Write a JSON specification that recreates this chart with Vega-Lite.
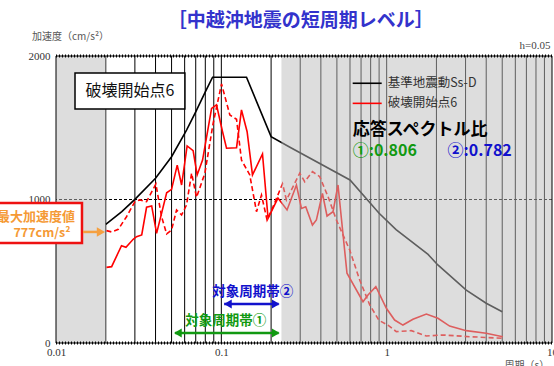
{
  "$schema": "https://vega.github.io/schema/vega-lite/v6.json",
  "width": 496,
  "height": 287,
  "autosize": {"type": "none"},
  "padding": {"left": 56, "top": 56, "right": 2, "bottom": 23},
  "background": "white",
  "config": {"view": {"stroke": null}, "font": "Noto Sans CJK JP", "text": {"font": "Noto Sans CJK JP"}},
  "data": {"values": [{}]},
  "datasets": {
    "grid": [{"period":0.02},{"period":0.03},{"period":0.04},{"period":0.05},{"period":0.06},{"period":0.07},{"period":0.08},{"period":0.09},{"period":0.1},{"period":0.2},{"period":0.3},{"period":0.4},{"period":0.5},{"period":0.6},{"period":0.7},{"period":0.8},{"period":0.9},{"period":1},{"period":2},{"period":3},{"period":4},{"period":5},{"period":6},{"period":7},{"period":8},{"period":9}],
    "shade": [{"from":0.01,"to":0.02},{"from":0.231,"to":10}],
    "ss": [{"period":0.02,"accel":827},{"period":0.025,"accel":915},{"period":0.03,"accel":1001},{"period":0.04,"accel":1148},{"period":0.05,"accel":1298},{"period":0.0616,"accel":1484},{"period":0.07,"accel":1610},{"period":0.08,"accel":1750},{"period":0.0885,"accel":1852},{"period":0.142,"accel":1852},{"period":0.2,"accel":1438},{"period":0.26,"accel":1364},{"period":0.6,"accel":1136},{"period":0.9,"accel":904},{"period":1.14,"accel":790},{"period":1.78,"accel":617},{"period":2.04,"accel":544},{"period":3.03,"accel":369},{"period":4.0,"accel":277},{"period":5.0,"accel":218}],
    "red": [{"period":0.0202,"accel":527},{"period":0.0217,"accel":532},{"period":0.0249,"accel":678},{"period":0.0265,"accel":667},{"period":0.0293,"accel":723},{"period":0.0307,"accel":741},{"period":0.033,"accel":753},{"period":0.0353,"accel":946},{"period":0.0379,"accel":955},{"period":0.0406,"accel":764},{"period":0.0467,"accel":1047},{"period":0.05,"accel":1071},{"period":0.0541,"accel":1240},{"period":0.0575,"accel":1101},{"period":0.0621,"accel":1373},{"period":0.0675,"accel":1340},{"period":0.0714,"accel":1171},{"period":0.077,"accel":1275},{"period":0.0873,"accel":1635},{"period":0.0935,"accel":1659},{"period":0.1017,"accel":1472},{"period":0.1075,"accel":1357},{"period":0.1236,"accel":1361},{"period":0.1324,"accel":1624},{"period":0.1432,"accel":1472},{"period":0.1543,"accel":1171},{"period":0.1774,"accel":1317},{"period":0.1917,"accel":869},{"period":0.22,"accel":1010},{"period":0.2497,"accel":927},{"period":0.2846,"accel":1101},{"period":0.3052,"accel":938},{"period":0.324,"accel":950},{"period":0.3557,"accel":822},{"period":0.3758,"accel":857},{"period":0.4088,"accel":1043},{"period":0.4358,"accel":885},{"period":0.4737,"accel":915},{"period":0.5077,"accel":1101},{"period":0.5754,"accel":486},{"period":0.7193,"accel":288},{"period":0.771,"accel":334},{"period":0.86,"accel":392},{"period":0.9957,"accel":242},{"period":1.117,"accel":160},{"period":1.254,"accel":125},{"period":1.442,"accel":165},{"period":1.738,"accel":202},{"period":2.042,"accel":172},{"period":2.403,"accel":118},{"period":3.03,"accel":86},{"period":4.0,"accel":68},{"period":5.04,"accel":44}],
    "redDash": [{"period":0.0202,"accel":783},{"period":0.0217,"accel":774},{"period":0.0238,"accel":792},{"period":0.0267,"accel":880},{"period":0.03,"accel":985},{"period":0.0322,"accel":997},{"period":0.0353,"accel":985},{"period":0.0402,"accel":1108},{"period":0.0435,"accel":880},{"period":0.0467,"accel":760},{"period":0.05,"accel":787},{"period":0.0536,"accel":927},{"period":0.0575,"accel":892},{"period":0.0616,"accel":962},{"period":0.0661,"accel":1183},{"period":0.0708,"accel":1015},{"period":0.0795,"accel":1183},{"period":0.0892,"accel":1531},{"period":0.1003,"accel":1805},{"period":0.1126,"accel":1589},{"period":0.1236,"accel":1559},{"period":0.1324,"accel":1275},{"period":0.1486,"accel":1171},{"period":0.1632,"accel":915},{"period":0.1749,"accel":1031},{"period":0.1891,"accel":857},{"period":0.2056,"accel":950},{"period":0.2344,"accel":1110},{"period":0.2476,"accel":997},{"period":0.298,"accel":1183},{"period":0.3195,"accel":1124},{"period":0.3557,"accel":1194},{"period":0.3937,"accel":1159},{"period":0.4419,"accel":1020},{"period":0.4966,"accel":857},{"period":0.5976,"accel":648},{"period":0.687,"accel":439},{"period":0.79,"accel":265},{"period":0.9,"accel":157},{"period":1.018,"accel":125},{"period":1.144,"accel":79},{"period":1.41,"accel":86},{"period":1.738,"accel":49},{"period":2.188,"accel":56},{"period":3.173,"accel":44},{"period":5.04,"accel":33}]
  },
  "layer": [
    {
      "data": {"name": "grid"},
      "mark": {"type": "rule", "color": "#000000", "strokeWidth": 1},
      "encoding": {
        "x": {"field": "period", "type": "quantitative", "scale": {"type": "log", "domain": [0.01, 10]},
              "axis": {"values": [0.01, 0.1, 1, 10], "format": "~g", "title": null, "grid": false, "ticks": false, "domain": false, "labelFont": "Liberation Serif", "labelFontSize": 11, "labelColor": "#333333", "labelPadding": 3, "labelFlush": false, "labelOverlap": false}}
      }
    },
    {
      "mark": {"type": "rule", "color": "#000000", "strokeWidth": 1, "strokeDash": [3, 2]},
      "encoding": {
        "y": {"datum": 1000, "type": "quantitative", "scale": {"domain": [0, 2000]},
              "axis": {"values": [0, 1000, 2000], "format": "d", "title": null, "grid": false, "ticks": false, "domain": false, "labelFont": "Liberation Serif", "labelFontSize": 11, "labelColor": "#333333", "labelPadding": 6}}
      }
    },
    {
      "data": {"name": "ss"},
      "mark": {"type": "line", "color": "#000000", "strokeWidth": 1.6},
      "encoding": {"x": {"field": "period", "type": "quantitative"}, "y": {"field": "accel", "type": "quantitative"}}
    },
    {
      "data": {"name": "red"},
      "mark": {"type": "line", "color": "#ff0000", "strokeWidth": 1.6},
      "encoding": {"x": {"field": "period", "type": "quantitative"}, "y": {"field": "accel", "type": "quantitative"}}
    },
    {
      "data": {"name": "redDash"},
      "mark": {"type": "line", "color": "#ff0000", "strokeWidth": 1.6, "strokeDash": [5, 3]},
      "encoding": {"x": {"field": "period", "type": "quantitative"}, "y": {"field": "accel", "type": "quantitative"}}
    },
    {
      "data": {"name": "shade"},
      "mark": {"type": "rect", "color": "#bbbbbb", "opacity": 0.5},
      "encoding": {"x": {"field": "from", "type": "quantitative"}, "x2": {"field": "to"}}
    },
    {"mark": {"type": "rule", "color": "#000000", "strokeWidth": 1}, "encoding": {"y": {"datum": 0}}},
    {"mark": {"type": "rule", "color": "#000000", "strokeWidth": 1}, "encoding": {"y": {"datum": 2000}}},
    {"mark": {"type": "rule", "color": "#000000", "strokeWidth": 3, "strokeDash": [1, 2]}, "encoding": {"y": {"datum": 0}}},
    {"mark": {"type": "rule", "color": "#000000", "strokeWidth": 3, "strokeDash": [1, 2]}, "encoding": {"y": {"datum": 2000}}},
    {"mark": {"type": "rule", "color": "#000000", "strokeWidth": 1}, "encoding": {"x": {"datum": 0.01}}},
    {"mark": {"type": "rule", "color": "#000000", "strokeWidth": 1}, "encoding": {"x": {"datum": 10}}},

    {"mark": {"type": "text", "text": "［中越沖地震の短周期レベル］", "fontSize": 19, "fontWeight": "bold", "color": "#3333cc", "align": "center", "baseline": "middle"},
     "encoding": {"x": {"datum": 0.302}, "y": {"datum": 2247}}},
    {"mark": {"type": "text", "text": "加速度（cm/s²）", "fontSize": 10, "color": "#555555", "align": "left", "baseline": "middle"},
     "encoding": {"x": {"datum": 0.00716}, "y": {"datum": 2132}}},
    {"mark": {"type": "text", "text": "h=0.05", "font": "Liberation Serif", "fontSize": 11, "color": "#444444", "align": "right", "baseline": "middle"},
     "encoding": {"x": {"datum": 9.79}, "y": {"datum": 2070}}},
    {"mark": {"type": "text", "text": "周期（s）", "fontSize": 10, "color": "#555555", "align": "left", "baseline": "middle"},
     "encoding": {"x": {"datum": 5.16}, "y": {"datum": -160}}},

    {"mark": {"type": "rect", "fill": "#ffffff", "stroke": "#000000", "strokeWidth": 1.5},
     "encoding": {"x": {"datum": 0.01303}, "x2": {"datum": 0.0602}, "y": {"datum": 1882}, "y2": {"datum": 1631}}},
    {"mark": {"type": "text", "text": "破壊開始点6", "fontSize": 16, "color": "#111111", "align": "center", "baseline": "middle"},
     "encoding": {"x": {"datum": 0.028}, "y": {"datum": 1756}}},

    {"mark": {"type": "rule", "color": "#000000", "strokeWidth": 1.6},
     "encoding": {"x": {"datum": 0.623}, "x2": {"datum": 0.933}, "y": {"datum": 1810}}},
    {"mark": {"type": "rule", "color": "#ff0000", "strokeWidth": 1.6},
     "encoding": {"x": {"datum": 0.623}, "x2": {"datum": 0.933}, "y": {"datum": 1670}}},
    {"mark": {"type": "text", "text": "基準地震動Ss-D", "fontSize": 12.5, "color": "#333333", "align": "left", "baseline": "middle"},
     "encoding": {"x": {"datum": 1.014}, "y": {"datum": 1810}}},
    {"mark": {"type": "text", "text": "破壊開始点6", "fontSize": 12.5, "color": "#333333", "align": "left", "baseline": "middle"},
     "encoding": {"x": {"datum": 1.014}, "y": {"datum": 1670}}},
    {"mark": {"type": "text", "text": "応答スペクトル比", "fontSize": 17, "fontWeight": "bold", "color": "#000000", "align": "left", "baseline": "middle"},
     "encoding": {"x": {"datum": 0.623}, "y": {"datum": 1484}}},
    {"mark": {"type": "text", "text": "①:0.806", "fontSize": 16, "fontWeight": "bold", "color": "#119911", "align": "left", "baseline": "middle"},
     "encoding": {"x": {"datum": 0.623}, "y": {"datum": 1338}}},
    {"mark": {"type": "text", "text": "②:0.782", "fontSize": 16, "fontWeight": "bold", "color": "#1111cc", "align": "left", "baseline": "middle"},
     "encoding": {"x": {"datum": 2.337}, "y": {"datum": 1338}}},

    {"mark": {"type": "rect", "fill": "#ffffff", "stroke": "#ee1111", "strokeWidth": 2.5},
     "encoding": {"x": {"datum": 0.00399}, "x2": {"datum": 0.01436}, "y": {"datum": 976}, "y2": {"datum": 697}}},
    {"mark": {"type": "text", "text": "最大加速度値", "fontSize": 13, "fontWeight": "bold", "color": "#f59a35", "align": "center", "baseline": "middle"},
     "encoding": {"x": {"datum": 0.00757}, "y": {"datum": 878}}},
    {"mark": {"type": "text", "text": "777cm/s²", "fontSize": 12.5, "fontWeight": "bold", "color": "#f59a35", "align": "center", "baseline": "middle"},
     "encoding": {"x": {"datum": 0.00823}, "y": {"datum": 767}}},
    {"mark": {"type": "rule", "color": "#f5a040", "strokeWidth": 2.5},
     "encoding": {"x": {"datum": 0.01456}, "x2": {"datum": 0.0181}, "y": {"datum": 774}}},
    {"mark": {"type": "point", "shape": "triangle-right", "filled": true, "color": "#f5a040", "opacity": 1, "size": 90},
     "encoding": {"x": {"datum": 0.0187}, "y": {"datum": 774}}},

    {"mark": {"type": "rule", "color": "#119911", "strokeWidth": 2.5},
     "encoding": {"x": {"datum": 0.0525}, "x2": {"datum": 0.222}, "y": {"datum": 70}}},
    {"mark": {"type": "point", "shape": "triangle-left", "filled": true, "color": "#119911", "opacity": 1, "size": 80},
     "encoding": {"x": {"datum": 0.0546}, "y": {"datum": 70}}},
    {"mark": {"type": "point", "shape": "triangle-right", "filled": true, "color": "#119911", "opacity": 1, "size": 80},
     "encoding": {"x": {"datum": 0.2135}, "y": {"datum": 70}}},
    {"mark": {"type": "text", "text": "対象周期帯①", "fontSize": 13.5, "fontWeight": "bold", "color": "#119911", "align": "center", "baseline": "middle"},
     "encoding": {"x": {"datum": 0.1065}, "y": {"datum": 153}}},

    {"mark": {"type": "rule", "color": "#1111cc", "strokeWidth": 2.5},
     "encoding": {"x": {"datum": 0.104}, "x2": {"datum": 0.222}, "y": {"datum": 272}}},
    {"mark": {"type": "point", "shape": "triangle-left", "filled": true, "color": "#1111cc", "opacity": 1, "size": 80},
     "encoding": {"x": {"datum": 0.1095}, "y": {"datum": 272}}},
    {"mark": {"type": "point", "shape": "triangle-right", "filled": true, "color": "#1111cc", "opacity": 1, "size": 80},
     "encoding": {"x": {"datum": 0.2135}, "y": {"datum": 272}}},
    {"mark": {"type": "text", "text": "対象周期帯②", "fontSize": 13.5, "fontWeight": "bold", "color": "#1111cc", "align": "center", "baseline": "middle"},
     "encoding": {"x": {"datum": 0.155}, "y": {"datum": 355}}}
  ]
}
